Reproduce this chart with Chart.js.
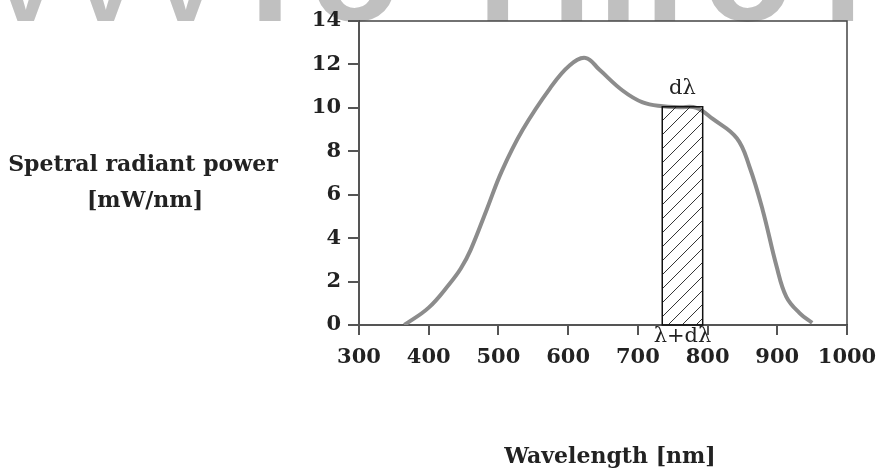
<!DOCTYPE html>
<html>
<head>
<meta charset="utf-8">
<script src="https://cdn.jsdelivr.net/npm/chart.js@4.4.1/dist/chart.umd.min.js"></script>
<style>
  html, body { margin: 0; padding: 0; background: #fff; }
  #wrap { width: 880px; height: 469px; position: relative; }
</style>
</head>
<body>
<div id="wrap"><canvas id="spectrumChart"></canvas></div>
<script>
// spectrum (nm, mW/nm)
const wavelengths = [365, 400, 430, 446, 460, 483, 505, 535, 574, 602, 625, 645, 678, 707, 736, 760, 784, 807, 842, 860, 879, 899, 913, 932, 950];
const power = [0, 0.8, 1.9, 2.6, 3.45, 5.3, 7.1, 9.0, 10.9, 11.95, 12.3, 11.75, 10.8, 10.25, 10.07, 10.03, 10.0, 9.5, 8.6, 7.3, 5.3, 2.7, 1.3, 0.55, 0.1];

const xTicks = [300, 400, 500, 600, 700, 800, 900, 1000];
const yTicks = [0, 2, 4, 6, 8, 10, 12, 14];

// the hatched d-lambda strip
const band = [735, 793];
const bandHeight = 10.05;

const yTitleLines = ['Spetral radiant power', '[mW/nm]'];
const xTitle = 'Wavelength [nm]';
const bandLabel = 'dλ';
const bandFootLabel = 'λ+dλ';

const tickFont = { family: 'DejaVu Serif', size: 21, weight: 'bold' };
const textFont = 'bold 22px "DejaVu Serif"';

const watermark = {
  beforeDraw(chart) {
    const ctx = chart.ctx;
    ctx.save();
    ctx.fillStyle = '#c0c0c0';
    ctx.textBaseline = 'alphabetic';
    ctx.textAlign = 'center';
    ctx.font = 'bold 100px "Liberation Sans"';
    [['v', 26], ['v', 106], ['v', 186]].forEach(([c, px]) => ctx.fillText(c, px, 21));
    ctx.font = 'bold 150px "Liberation Sans"';
    [['.', 270], ['o', 355], ['o', 748]].forEach(([c, px]) => ctx.fillText(c, px, 21));
    ctx.textAlign = 'left';
    [['r', 477], ['m', 551], ['r', 822]].forEach(([c, px]) => ctx.fillText(c, px, 21));
    ctx.restore();
  }
};

const extras = {
  afterDatasetsDraw(chart) {
    const { ctx, chartArea: a, scales: { x, y } } = chart;
    ctx.save();

    // frame top and right
    ctx.strokeStyle = '#444';
    ctx.lineWidth = 1.5;
    ctx.beginPath();
    ctx.moveTo(a.left, a.top);
    ctx.lineTo(a.right, a.top);
    ctx.lineTo(a.right, a.bottom);
    ctx.stroke();

    // hatched strip
    const x0 = x.getPixelForValue(band[0]);
    const x1 = x.getPixelForValue(band[1]);
    const yTop = y.getPixelForValue(bandHeight);
    const yBase = y.getPixelForValue(0);
    const h = yBase - yTop;
    ctx.save();
    ctx.beginPath();
    ctx.rect(x0, yTop, x1 - x0, h);
    ctx.clip();
    ctx.strokeStyle = '#333';
    ctx.lineWidth = 1;
    ctx.beginPath();
    for (let k = x0 - h; k < x1 + 2; k += 14) {
      ctx.moveTo(k, yBase);
      ctx.lineTo(k + h, yTop);
    }
    ctx.stroke();
    ctx.restore();
    ctx.strokeStyle = '#111';
    ctx.lineWidth = 1.5;
    ctx.strokeRect(x0, yTop, x1 - x0, h);

    ctx.fillStyle = '#222';
    ctx.font = '21px "DejaVu Serif"';
    ctx.textAlign = 'center';
    ctx.textBaseline = 'middle';
    ctx.fillText(bandLabel, (x0 + x1) / 2, yTop - 18);
    ctx.fillText(bandFootLabel, (x0 + x1) / 2, yBase + 12);

    // axis titles, both written level
    ctx.font = textFont;
    ctx.fillText(yTitleLines[0], 143, 165);
    ctx.fillText(yTitleLines[1], 145, 201);
    ctx.fillText(xTitle, 610, 457);
    ctx.restore();
  }
};

new Chart(document.getElementById('spectrumChart').getContext('2d'), {
  type: 'line',
  data: {
    datasets: [{
      data: wavelengths.map((w, i) => ({ x: w, y: power[i] })),
      borderColor: '#8c8c8c',
      borderWidth: 4,
      pointRadius: 0,
      tension: 0.4,
      fill: false
    }]
  },
  options: {
    responsive: true,
    maintainAspectRatio: false,
    animation: false,
    layout: { padding: { top: 21, right: 33, left: 0, bottom: 0 } },
    plugins: { legend: { display: false }, tooltip: { enabled: false } },
    scales: {
      x: {
        type: 'linear',
        min: 300,
        max: 1000,
        afterBuildTicks: s => { s.ticks = xTicks.map(v => ({ value: v })); },
        afterFit: s => { s.height = 144; s.paddingLeft = 0; s.paddingRight = 0; },
        ticks: { font: tickFont, color: '#222', padding: 10, maxRotation: 0, callback: v => String(v) },
        grid: { drawOnChartArea: false, drawTicks: true, tickLength: 10, color: '#555', lineWidth: 2 },
        border: { display: true, color: '#555', width: 2 }
      },
      y: {
        min: 0,
        max: 14,
        afterBuildTicks: s => { s.ticks = yTicks.map(v => ({ value: v })); },
        afterFit: s => { s.width = 359; s.paddingTop = 0; s.paddingBottom = 0; },
        ticks: { font: tickFont, color: '#222', padding: 7, callback: v => String(v) },
        grid: { drawOnChartArea: false, drawTicks: true, tickLength: 11, color: '#555', lineWidth: 2 },
        border: { display: true, color: '#555', width: 2 }
      }
    }
  },
  plugins: [watermark, extras]
});
</script>
</body>
</html>
